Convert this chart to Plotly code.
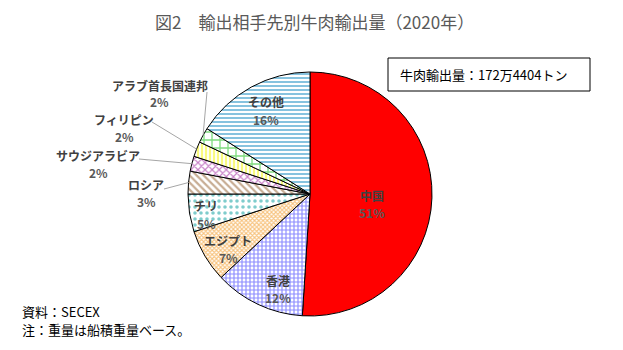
import math
import plotly.graph_objects as go

# Beef exports by destination, 2020 (share of total tonnage, %)
countries = ["中国", "香港", "エジプト", "チリ", "ロシア",
             "サウジアラビア", "フィリピン", "アラブ首長国連邦", "その他"]
shares = [51, 12, 7, 5, 3, 2, 2, 2, 16]

total_label = "牛肉輸出量：172万4404トン"
title_text = "図2　輸出相手先別牛肉輸出量（2020年）"
source_note = "資料：SECEX"
weight_note = "注：重量は船積重量ベース。"

# Fill styles per slice
shapes_pat = ["", "+", "x", ".", "\\", "x", "|", "+", "-"]
fg_colors = ["#ff0000", "#1a1aff", "#f08800", "#009a9a", "#8f5a28",
             "#900090", "#f5f500", "#00b800", "#1088c0"]
pat_sizes = [8, 4, 3, 6, 5, 5, 4, 8, 4]
pat_solid = [0.3, 0.5, 0.6, 0.28, 0.45, 0.4, 0.55, 0.3, 0.5]

W, H = 623, 350
CX, CY, R = 310, 194, 122          # pie centre and radius (px)


def px(x, y):
    return x / W, 1 - y / H


fig = go.Figure(go.Pie(
    labels=countries,
    values=shares,
    sort=False,
    direction="clockwise",
    rotation=0,
    textinfo="none",
    hoverinfo="label+percent",
    marker=dict(
        colors=["#ff0000"] + ["#ffffff"] * 8,
        line=dict(color="#000000", width=1),
        pattern=dict(shape=shapes_pat, fgcolor=fg_colors, bgcolor="#ffffff",
                     size=pat_sizes, solidity=pat_solid, fillmode="overlay"),
    ),
    domain=dict(x=[(CX - R) / W, (CX + R) / W],
                y=[1 - (CY + R) / H, 1 - (CY - R) / H]),
    showlegend=False,
))

# Label placement (px) for each slice name; the percent sits one line below
label_pos = {
    "中国": (372, 195),
    "香港": (278, 280),
    "エジプト": (228, 240),
    "チリ": (206, 206),
    "ロシア": (146, 184),
    "サウジアラビア": (98, 155),
    "フィリピン": (124, 119),
    "アラブ首長国連邦": (160, 85),
    "その他": (266, 102),
}
# Leader-line start points (px) for labels outside the pie
leader_start = {
    "ロシア": (164, 189),
    "サウジアラビア": (139, 159),
    "フィリピン": (152, 122),
    "アラブ首長国連邦": (207, 92),
}


def note(x, y, text, size, color, xanchor="center", **kw):
    nx, ny = px(x, y)
    return dict(x=nx, y=ny, xref="paper", yref="paper", text=text,
                showarrow=False, xanchor=xanchor, yanchor="middle",
                font=dict(size=size, color=color, family="Noto Sans CJK JP"),
                **kw)


annotations = []
shapes = []
total = sum(shares)
cum = 0
for name, val in zip(countries, shares):
    mid = (cum + val / 2) / total * 2 * math.pi
    cum += val
    lx, ly = label_pos[name]
    annotations.append(note(lx, ly, "<b>%s</b>" % name, 12, "#404040"))
    annotations.append(note(lx, ly + 17, "<b>%d%%</b>" % val, 12, "#595959"))
    if name in leader_start:
        ex = CX + R * math.sin(mid)
        ey = CY - R * math.cos(mid)
        sx, sy = leader_start[name]
        a0 = px(sx, sy)
        a1 = px(ex, ey)
        shapes.append(dict(type="line", xref="paper", yref="paper",
                           x0=a0[0], y0=a0[1], x1=a1[0], y1=a1[1],
                           line=dict(color="#a6a6a6", width=1)))

# Total-volume box
bx0, by0 = px(388, 58)
bx1, by1 = px(590, 91)
shapes.append(dict(type="rect", xref="paper", yref="paper",
                   x0=bx0, y0=by1, x1=bx1, y1=by0,
                   line=dict(color="#000000", width=1), fillcolor="#ffffff"))
annotations.append(note(398, 74, total_label, 13, "#000000", xanchor="left"))

# Notes
annotations.append(note(20, 311, source_note, 13, "#000000", xanchor="left"))
annotations.append(note(20, 329, weight_note, 13, "#000000", xanchor="left"))

# Title
annotations.append(note(314, 22, title_text, 17, "#595959"))

fig.update_layout(
    width=W, height=H,
    margin=dict(l=0, r=0, t=0, b=0),
    paper_bgcolor="#ffffff",
    plot_bgcolor="#ffffff",
    annotations=annotations,
    shapes=shapes,
)

fig.write_html("out.html")
